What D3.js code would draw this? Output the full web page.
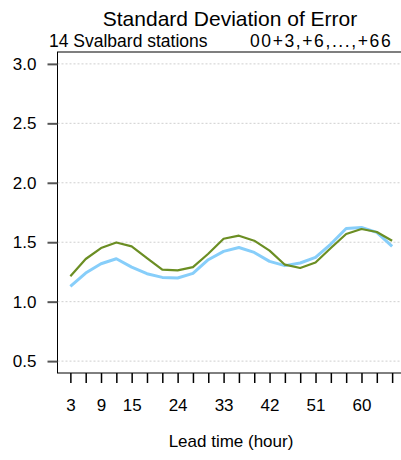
<!DOCTYPE html>
<html><head><meta charset="utf-8">
<script src="https://cdn.jsdelivr.net/npm/d3@7"></script>
<style>body{margin:0;background:#fff}svg{display:block;font-family:"Liberation Sans",Arial,sans-serif}</style>
</head><body>
<svg id="c" width="401" height="460"></svg>
<script>
const leadTimes = [3,6,9,12,15,18,21,24,27,30,33,36,39,42,45,48,51,54,57,60,63,66];
const seriesGreen = [1.213,1.359,1.451,1.498,1.465,1.367,1.269,1.263,1.291,1.403,1.529,1.555,1.513,1.429,1.311,1.283,1.330,1.451,1.569,1.611,1.586,1.513];
const seriesBlue  = [1.129,1.241,1.319,1.361,1.291,1.235,1.204,1.199,1.238,1.353,1.423,1.456,1.414,1.339,1.303,1.325,1.372,1.485,1.616,1.624,1.583,1.465];
const yTicks = [0.5,1.0,1.5,2.0,2.5,3.0];
const xLabels = [3,9,15,24,33,42,51,60];

const svg = d3.select("#c");
const L = 57.5, R = 405, T = 52, B = 373;
const x = d3.scaleLinear().domain([0.48, 68.52]).range([L, R]);
const y = d3.scaleLinear().domain([0.4, 3.1]).range([B, T]);
const FF = "Liberation Sans, Arial, sans-serif";

// grid
svg.append("g").selectAll("line").data(yTicks).join("line")
  .attr("x1", L).attr("x2", R).attr("y1", d => y(d)).attr("y2", d => y(d))
  .attr("stroke", "#cfcfcf").attr("stroke-width", 1).attr("stroke-dasharray", "2,2");

// box
svg.append("rect").attr("x", L).attr("y", T).attr("width", R - L).attr("height", B - T)
  .attr("fill", "none").attr("stroke", "#000").attr("stroke-width", 1);

// y axis
const ya = svg.append("g").attr("transform", `translate(${L},0)`)
  .call(d3.axisLeft(y).tickValues(yTicks).tickFormat(d3.format(".1f")).tickSize(10).tickPadding(11));
ya.select(".domain").remove();
ya.selectAll("line").attr("stroke", "#555").attr("stroke-width", 2);
ya.selectAll("text").attr("font-size", 17).attr("fill", "#000").attr("font-family", FF);

// x axis
const xa = svg.append("g").attr("transform", `translate(0,${B})`)
  .call(d3.axisBottom(x).tickValues(leadTimes).tickSize(10)
    .tickFormat(d => xLabels.includes(d) ? d : ""));
xa.select(".domain").remove();
xa.selectAll("line").attr("stroke", "#000").attr("stroke-width", 1.5);
xa.selectAll("text").attr("font-size", 17).attr("fill", "#000").attr("font-family", FF)
  .attr("dy", null).attr("y", 38);

const line = d3.line().x((d, i) => x(leadTimes[i])).y(d => y(d));
svg.append("path").datum(seriesBlue).attr("d", line).attr("fill", "none")
  .attr("stroke", "#87cefa").attr("stroke-width", 3).attr("stroke-linejoin", "round");
svg.append("path").datum(seriesGreen).attr("d", line).attr("fill", "none")
  .attr("stroke", "#6b8e23").attr("stroke-width", 2.2).attr("stroke-linejoin", "round");

svg.append("text").attr("x", 230).attr("y", 26).attr("text-anchor", "middle")
  .attr("font-size", 21).text("Standard Deviation of Error");
svg.append("text").attr("x", 49).attr("y", 47).attr("font-size", 17.5).text("14 Svalbard stations");
svg.append("text").attr("x", 250).attr("y", 47).attr("font-size", 17.5)
  .attr("letter-spacing", "1.6px").text("00+3,+6,...,+66");
svg.append("text").attr("x", 231).attr("y", 447).attr("text-anchor", "middle").attr("font-size", 17).text("Lead time (hour)");
</script>
</body></html>
